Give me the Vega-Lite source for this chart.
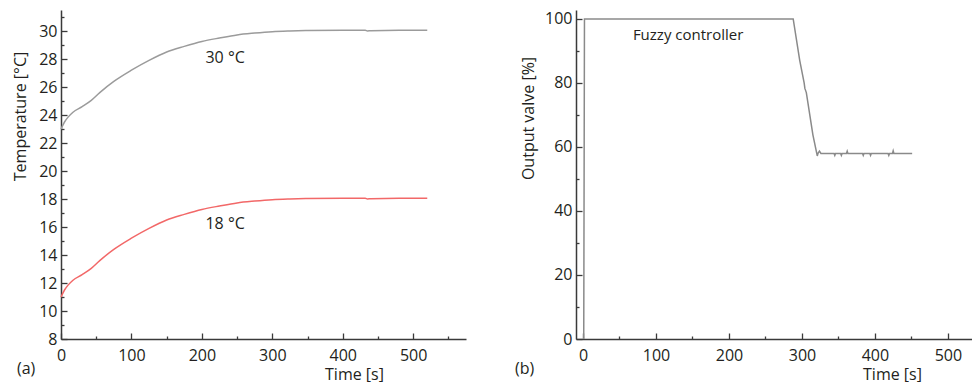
{
  "$schema": "https://vega.github.io/schema/vega-lite/v6.json",
  "padding": {"left": 12, "top": 10, "right": 0, "bottom": 0},
  "spacing": 49,
  "config": {
    "font": "Open Sans",
    "view": {"stroke": null},
    "axis": {
      "grid": false,
      "domainColor": "#3a3a3a",
      "domainWidth": 1.5,
      "tickColor": "#3a3a3a",
      "tickWidth": 1.3,
      "labelFontSize": 16,
      "labelColor": "#231f20",
      "labelOverlap": false,
      "titleFontSize": 16,
      "titleFontWeight": "normal",
      "titleColor": "#231f20",
      "labelFont": "Open Sans",
      "titleFont": "Open Sans"
    },
    "title": {"fontSize": 16, "fontWeight": "normal", "color": "#231f20", "font": "Open Sans"}
  },
  "hconcat": [
    {
      "width": 405,
      "height": 329,
      "title": {"text": "(a)", "orient": "bottom", "anchor": "start", "frame": "bounds", "offset": -21, "dx": 5},
      "resolve": {"axis": {"x": "independent", "y": "independent"}},
      "layer": [
        {
          "data": {"values": [
            {"t": 0, "v": 23.0, "s": "30 °C"}, {"t": 5, "v": 23.5, "s": "30 °C"}, {"t": 10, "v": 23.85, "s": "30 °C"},
            {"t": 17, "v": 24.2, "s": "30 °C"}, {"t": 30, "v": 24.6, "s": "30 °C"}, {"t": 43, "v": 25.05, "s": "30 °C"},
            {"t": 55, "v": 25.6, "s": "30 °C"}, {"t": 75, "v": 26.4, "s": "30 °C"}, {"t": 100, "v": 27.2, "s": "30 °C"},
            {"t": 125, "v": 27.9, "s": "30 °C"}, {"t": 150, "v": 28.5, "s": "30 °C"}, {"t": 175, "v": 28.9, "s": "30 °C"},
            {"t": 200, "v": 29.25, "s": "30 °C"}, {"t": 225, "v": 29.5, "s": "30 °C"}, {"t": 250, "v": 29.72, "s": "30 °C"},
            {"t": 275, "v": 29.85, "s": "30 °C"}, {"t": 300, "v": 29.95, "s": "30 °C"}, {"t": 325, "v": 30.0, "s": "30 °C"},
            {"t": 350, "v": 30.03, "s": "30 °C"}, {"t": 400, "v": 30.05, "s": "30 °C"}, {"t": 432, "v": 30.05, "s": "30 °C"},
            {"t": 435, "v": 30.0, "s": "30 °C"}, {"t": 440, "v": 30.02, "s": "30 °C"}, {"t": 480, "v": 30.05, "s": "30 °C"},
            {"t": 520, "v": 30.05, "s": "30 °C"},
            {"t": 0, "v": 11.0, "s": "18 °C"}, {"t": 5, "v": 11.5, "s": "18 °C"}, {"t": 10, "v": 11.85, "s": "18 °C"},
            {"t": 17, "v": 12.2, "s": "18 °C"}, {"t": 30, "v": 12.6, "s": "18 °C"}, {"t": 43, "v": 13.05, "s": "18 °C"},
            {"t": 55, "v": 13.6, "s": "18 °C"}, {"t": 75, "v": 14.4, "s": "18 °C"}, {"t": 100, "v": 15.2, "s": "18 °C"},
            {"t": 125, "v": 15.9, "s": "18 °C"}, {"t": 150, "v": 16.5, "s": "18 °C"}, {"t": 175, "v": 16.9, "s": "18 °C"},
            {"t": 200, "v": 17.25, "s": "18 °C"}, {"t": 225, "v": 17.5, "s": "18 °C"}, {"t": 250, "v": 17.72, "s": "18 °C"},
            {"t": 275, "v": 17.85, "s": "18 °C"}, {"t": 300, "v": 17.95, "s": "18 °C"}, {"t": 325, "v": 18.0, "s": "18 °C"},
            {"t": 350, "v": 18.03, "s": "18 °C"}, {"t": 400, "v": 18.05, "s": "18 °C"}, {"t": 432, "v": 18.05, "s": "18 °C"},
            {"t": 435, "v": 18.0, "s": "18 °C"}, {"t": 440, "v": 18.02, "s": "18 °C"}, {"t": 480, "v": 18.05, "s": "18 °C"},
            {"t": 520, "v": 18.05, "s": "18 °C"}
          ]},
          "mark": {"type": "line", "strokeWidth": 1.5, "interpolate": "monotone"},
          "encoding": {
            "x": {"field": "t", "type": "quantitative", "scale": {"domain": [0, 575], "nice": false, "zero": false},
              "axis": {"orient": "bottom", "values": [0, 100, 200, 300, 400, 500], "labelOverlap": false, "labelFlush": false,
                "tickSize": -6, "labelPadding": 14,
                "title": "Time [s]", "titleX": 293, "titleY": 40, "titleBaseline": "alphabetic", "titleAlign": "center"}},
            "y": {"field": "v", "type": "quantitative", "scale": {"domain": [8, 31.5], "nice": false, "zero": false},
              "axis": {"orient": "left", "values": [8, 10, 12, 14, 16, 18, 20, 22, 24, 26, 28, 30], "labelOverlap": false,
                "tickSize": -6, "labelPadding": 10,
                "title": "Temperature [°C]", "titleX": -41, "titleY": 106, "titleBaseline": "middle", "titleAlign": "center", "titleAngle": -90}},
            "color": {"field": "s", "type": "nominal", "scale": {"domain": ["30 °C", "18 °C"], "range": ["#9b9b9b", "#f26868"]}, "legend": null}
          }
        },
        {
          "data": {"values": [
            {"t": 233, "v": 28.07, "label": "30 °C"},
            {"t": 233, "v": 16.2, "label": "18 °C"}
          ]},
          "mark": {"type": "text", "fontSize": 16, "color": "#231f20", "align": "center", "baseline": "middle"},
          "encoding": {
            "x": {"field": "t", "type": "quantitative",
              "axis": {"orient": "bottom", "values": [50, 150, 250, 350, 450, 550], "labels": false, "domain": false, "tickSize": -3, "title": null}},
            "y": {"field": "v", "type": "quantitative",
              "axis": {"orient": "left", "values": [9, 11, 13, 15, 17, 19, 21, 23, 25, 27, 29, 31], "labels": false, "domain": false, "tickSize": -3, "title": null}},
            "text": {"field": "label"}
          }
        }
      ]
    },
    {
      "width": 396,
      "height": 329,
      "title": {"text": "(b)", "orient": "bottom", "anchor": "start", "frame": "bounds", "offset": -21, "dx": -5},
      "resolve": {"axis": {"x": "independent", "y": "independent"}},
      "layer": [
        {
          "data": {"values": [
            {"t": 1, "v": 0}, {"t": 2, "v": 100}, {"t": 288, "v": 100}, {"t": 297, "v": 87}, {"t": 303, "v": 80},
            {"t": 304, "v": 78.3}, {"t": 306, "v": 77}, {"t": 315, "v": 63.8}, {"t": 321, "v": 57.2}, {"t": 322, "v": 58},
            {"t": 324, "v": 58.7}, {"t": 326, "v": 58}, {"t": 344, "v": 58}, {"t": 345, "v": 57.4}, {"t": 346, "v": 58},
            {"t": 353, "v": 58}, {"t": 354, "v": 57.4}, {"t": 355, "v": 58}, {"t": 361, "v": 58}, {"t": 362, "v": 58.7},
            {"t": 363, "v": 58}, {"t": 383, "v": 58}, {"t": 384, "v": 57.4}, {"t": 385, "v": 58}, {"t": 393, "v": 58},
            {"t": 394, "v": 57.4}, {"t": 395, "v": 58}, {"t": 418, "v": 58}, {"t": 419, "v": 57.4}, {"t": 420, "v": 58},
            {"t": 424, "v": 58}, {"t": 425, "v": 58.8}, {"t": 426, "v": 58}, {"t": 451, "v": 58}
          ]},
          "mark": {"type": "line", "strokeWidth": 1.5, "color": "#8a8a8a"},
          "encoding": {
            "x": {"field": "t", "type": "quantitative", "scale": {"domain": [-9.6, 533], "nice": false, "zero": false},
              "axis": {"orient": "bottom", "values": [0, 100, 200, 300, 400, 500], "labelOverlap": false, "labelFlush": false,
                "tickSize": -6, "labelPadding": 14,
                "title": "Time [s]", "titleX": 316, "titleY": 40, "titleBaseline": "alphabetic", "titleAlign": "center"}},
            "y": {"field": "v", "type": "quantitative", "scale": {"domain": [0, 102.8], "nice": false, "zero": false},
              "axis": {"orient": "left", "values": [0, 20, 40, 60, 80, 100], "labelOverlap": false,
                "tickSize": -6, "labelPadding": 10,
                "title": "Output valve [%]", "titleX": -48, "titleY": 108, "titleBaseline": "middle", "titleAlign": "center", "titleAngle": -90}}
          }
        },
        {
          "data": {"values": [{"t": 144, "v": 95, "label": "Fuzzy controller"}]},
          "mark": {"type": "text", "fontSize": 15, "color": "#231f20", "align": "center", "baseline": "middle"},
          "encoding": {
            "x": {"field": "t", "type": "quantitative",
              "axis": {"orient": "bottom", "values": [50, 150, 250, 350, 450], "labels": false, "domain": false, "tickSize": -3, "title": null}},
            "y": {"field": "v", "type": "quantitative",
              "axis": {"orient": "left", "values": [10, 30, 50, 70, 90], "labels": false, "domain": false, "tickSize": -3, "title": null}},
            "text": {"field": "label"}
          }
        }
      ]
    }
  ]
}
